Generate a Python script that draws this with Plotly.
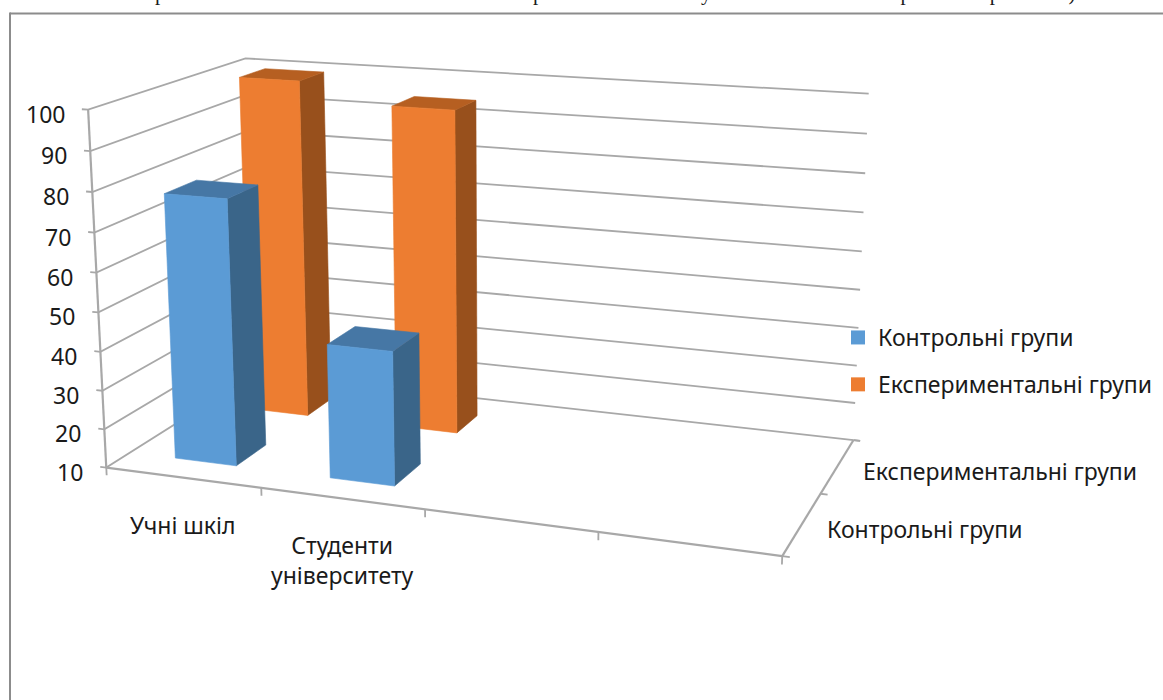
import numpy as np
import plotly.graph_objects as go

# Chart data
CATEGORIES = ["Учні шкіл", "Студенти<br>університету", "", ""]
SERIES_NAMES = ["Контрольні групи", "Експериментальні групи"]
CONTROL_VALUES = [78, 44]
EXPERIMENTAL_VALUES = [100, 95]
VALUE_TICKS = list(range(10, 101, 10))

# Viewing parameters of the 3-D box: yaw, pitch, roll, distance, focal length,
# principal point, depth and height of the box relative to its width.
YAW, PITCH, ROLL = 0.35319, 0.25822, 0.00255
DISTANCE, FOCAL = 3.09869, 2135.15786
CENTER_U, CENTER_V = 485.96561, 281.38839
BOX_DEPTH, BOX_HEIGHT = 0.49021, 0.52814
Z_MIN, Z_MAX = VALUE_TICKS[0], VALUE_TICKS[-1]

# Each category slot holds a bar taking 40% of the slot (150% gap);
# depth extents of the two series rows along the depth axis.
GAP_RATIO = 1.5
ROW_SPANS = {0: (0.145, 0.345), 1: (0.65, 0.83)}

GRID = "#a8a8a8"
TEXT = "#1a1a1a"
FONT = "Noto Sans"
FONT_SIZE = 23
FACE_COLORS = {
    0: {"front": "#5b9bd5", "side": "#3a6589", "top": "#4677a5"},
    1: {"front": "#ed7d31", "side": "#98501c", "top": "#b65f21"},
}
NBSP = "\u00a0"
CAPTION_TAIL = "р" + NBSP * 70 + "р" + NBSP * 30 + "у" + NBSP * 36 + "р" + NBSP * 15 + "р" + NBSP * 13 + ")"


def project(x, y, z):
    """Map box coordinates (x, y in 0..1, z on the value axis) to the picture plane."""
    wx = x - 0.5
    wy = (y - 0.5) * BOX_DEPTH
    wz = ((z - Z_MIN) / (Z_MAX - Z_MIN) - 0.5) * BOX_HEIGHT
    xc = np.cos(YAW) * wx + np.sin(YAW) * wy
    dh = -np.sin(YAW) * wx + np.cos(YAW) * wy
    zc = dh * np.cos(PITCH) - wz * np.sin(PITCH)
    yc = wz * np.cos(PITCH) + dh * np.sin(PITCH)
    xr = np.cos(ROLL) * xc - np.sin(ROLL) * yc
    yr = np.sin(ROLL) * xc + np.cos(ROLL) * yc
    return CENTER_U + FOCAL * xr / (DISTANCE + zc), CENTER_V - FOCAL * yr / (DISTANCE + zc)


def path(points):
    uv = [project(*p) for p in points]
    return [u for u, _ in uv], [v for _, v in uv]


fig = go.Figure()


def add_line(points, width=1.8, color=GRID):
    u, v = path(points)
    fig.add_trace(go.Scatter(x=u, y=v, mode="lines", line=dict(color=color, width=width),
                             showlegend=False, hoverinfo="skip"))


def add_label(u, v, text, xanchor="center", yanchor="middle", size=FONT_SIZE, family=FONT, align="center"):
    fig.add_annotation(x=u, y=v, text=text, showarrow=False, xanchor=xanchor, yanchor=yanchor, align=align,
                       font=dict(family=family, size=size, color=TEXT), borderpad=0, borderwidth=0)


# Gridlines on the left and back walls, with ticks on the value axis
for z in VALUE_TICKS:
    add_line([(-0.01, 0, z), (0, 0, z), (0, 1, z), (1, 1, z)])
add_line([(1, 1, Z_MIN), (1.01, 1, Z_MIN)])
add_line([(0, 0, Z_MIN), (0, 0, Z_MAX)], width=2.2)

# Floor axes with their ticks
add_line([(0, 0, Z_MIN), (1, 0, Z_MIN)], width=2.2)
add_line([(1, 0, Z_MIN), (1, 1, Z_MIN)], width=2.2)
for i in range(len(CATEGORIES) + 1):
    add_line([(i / len(CATEGORIES), 0, Z_MIN), (i / len(CATEGORIES), 0, Z_MIN - 2)])
for j in range(len(SERIES_NAMES) + 1):
    add_line([(1, j / 2, Z_MIN), (1.01, j / 2, Z_MIN)])


def bar_faces(cat, row, value):
    slot_x = 1 / len(CATEGORIES)
    pad = GAP_RATIO / (1 + GAP_RATIO) / 2
    x0, x1 = (cat + pad) * slot_x, (cat + 1 - pad) * slot_x
    y0, y1 = ROW_SPANS[row]
    return {
        "side": [(x1, y0, Z_MIN), (x1, y1, Z_MIN), (x1, y1, value), (x1, y0, value)],
        "top": [(x0, y0, value), (x1, y0, value), (x1, y1, value), (x0, y1, value)],
        "front": [(x0, y0, Z_MIN), (x1, y0, Z_MIN), (x1, y0, value), (x0, y0, value)],
    }


# Back row is painted first so the front row covers it
for row, values in ((1, EXPERIMENTAL_VALUES), (0, CONTROL_VALUES)):
    for cat, value in enumerate(values):
        for face, pts in bar_faces(cat, row, value).items():
            u, v = path(pts + pts[:1])
            color = FACE_COLORS[row][face]
            fig.add_trace(go.Scatter(x=u, y=v, mode="lines", fill="toself", fillcolor=color,
                                     line=dict(color=color, width=0.6), showlegend=False,
                                     name=SERIES_NAMES[row], customdata=[value] * len(u),
                                     hovertemplate="%{customdata}<extra>" + SERIES_NAMES[row] + "</extra>"))

# Legend entries
for row, name in enumerate(SERIES_NAMES):
    fig.add_trace(go.Scatter(x=[None], y=[None], mode="markers", name=name, legendgroup=name,
                             marker=dict(symbol="square", size=14, color=FACE_COLORS[row]["front"])))

# Value axis labels
for z in VALUE_TICKS:
    u, v = project(0, 0, z)
    add_label(u - 23, v + 4, str(z), xanchor="right")

# Category labels under the front axis
for i, name in enumerate(CATEGORIES):
    if name:
        u, v = project((i + 0.5) / len(CATEGORIES), 0, Z_MIN)
        add_label(u, v + 31, name, yanchor="top")

# Series labels along the depth axis
for j, name in enumerate(SERIES_NAMES):
    u, v = project(1, (j + 0.5) / 2, Z_MIN)
    add_label(u + 25, v + 5, name, xanchor="left")

# Caption line running off the top of the page
add_label(155, 5, CAPTION_TAIL, xanchor="left", yanchor="bottom", size=21, family="Liberation Serif")

fig.update_layout(
    width=1163, height=700, margin=dict(l=0, r=0, t=0, b=0),
    paper_bgcolor="white", plot_bgcolor="white",
    xaxis=dict(visible=False, range=[0, 1163], fixedrange=True),
    yaxis=dict(visible=False, range=[700, 0], fixedrange=True),
    legend=dict(x=838 / 1163, y=1 - 316 / 700, xanchor="left", yanchor="top", bgcolor="rgba(0,0,0,0)",
                font=dict(family=FONT, size=FONT_SIZE, color=TEXT), tracegroupgap=14, itemclick=False),
    shapes=[dict(type="line", x0=10, x1=1163, y0=13.5, y1=13.5, line=dict(color="#8c8c8c", width=2)),
            dict(type="line", x0=10, x1=10, y0=12.5, y1=700, line=dict(color="#8c8c8c", width=2))],
    hovermode="closest",
)
fig.write_html("out.html", config=dict(displayModeBar=False))
